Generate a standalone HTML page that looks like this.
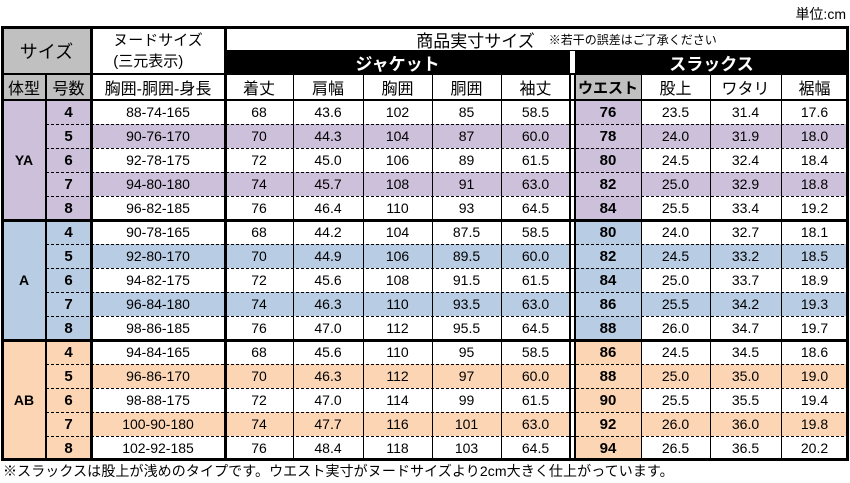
<!DOCTYPE html>
<html><head><meta charset="utf-8">
<style>
body{margin:0;width:850px;height:483px;background:#fff;position:relative;overflow:hidden;font-family:"Liberation Sans","Noto Sans CJK JP",sans-serif;color:#000}
.c{position:absolute;box-sizing:border-box;display:flex;align-items:center;justify-content:center;font-size:14px;white-space:nowrap}
.l{position:absolute;background:#000}
</style></head><body>
<div class="c" style="left:740px;top:4px;width:106px;height:20px;justify-content:flex-end;font-size:14px">単位:cm</div>
<div id="t"></div>
<div class="c" style="left:3px;top:461px;height:20px;justify-content:flex-start;font-size:14px;letter-spacing:0.1px">※スラックスは股上が浅めのタイプです。ウエスト実寸がヌードサイズより2cm大きく仕上がっています。</div>
<script>
const groups=["YA","A","AB"];
const sizes=["4","5","6","7","8"];
const nude=[["88-74-165","90-76-170","92-78-175","94-80-180","96-82-185"],["90-78-165","92-80-170","94-82-175","96-84-180","98-86-185"],["94-84-165","96-86-170","98-88-175","100-90-180","102-92-185"]];
const kitake=[["68","70","72","74","76"],["68","70","72","74","76"],["68","70","72","74","76"]];
const katahaba=[["43.6","44.3","45.0","45.7","46.4"],["44.2","44.9","45.6","46.3","47.0"],["45.6","46.3","47.0","47.7","48.4"]];
const kyoui=[["102","104","106","108","110"],["104","106","108","110","112"],["110","112","114","116","118"]];
const doui=[["85","87","89","91","93"],["87.5","89.5","91.5","93.5","95.5"],["95","97","99","101","103"]];
const sodetake=[["58.5","60.0","61.5","63.0","64.5"],["58.5","60.0","61.5","63.0","64.5"],["58.5","60.0","61.5","63.0","64.5"]];
const waist=[["76","78","80","82","84"],["80","82","84","86","88"],["86","88","90","92","94"]];
const mata=[["23.5","24.0","24.5","25.0","25.5"],["24.0","24.5","25.0","25.5","26.0"],["24.5","25.0","25.5","26.0","26.5"]];
const watari=[["31.4","31.9","32.4","32.9","33.4"],["32.7","33.2","33.7","34.2","34.7"],["34.5","35.0","35.5","36.0","36.5"]];
const susohaba=[["17.6","18.0","18.4","18.8","19.2"],["18.1","18.5","18.9","19.3","19.7"],["18.6","19.0","19.4","19.8","20.2"]];
const colors=["#ccc0da","#b8cce4","#fcd5b4"];
const X=[2,46,91,225,293,363,432,501,570,575,641,710,781,848];
const T=document.getElementById('t');
function cell(x,y,w,h,txt,bg,extra,name){const d=document.createElement('div');d.className='c';


d.style.cssText=`left:${x}px;top:${y}px;width:${w}px;height:${h}px;`+(bg?`background:${bg};`:'')+(extra||'');d.textContent=txt;T.appendChild(d);return d;}
function line(x,y,w,h,name,dash){const d=document.createElement('div');d.className='l';


d.style.cssText=`left:${x}px;top:${y}px;width:${w}px;height:${h}px;`+(dash?'background:repeating-linear-gradient(90deg,#000 0 3px,transparent 3px 5px);':'');T.appendChild(d);}
cell(2,27,89,47,"サイズ","#c0c0c0","font-size:18px;","size-header");
cell(91,27,134,47,"","", "flex-direction:column;line-height:21px;font-size:15px;","nude-header").innerHTML="ヌードサイズ<br>(三元表示)";
cell(225,27,623,24,"","","font-size:17px;","actual-size-header").innerHTML='<span style="margin-left:60px">商品実寸サイズ</span><span style="font-size:12px;margin-left:14px">※若干の誤差はご了承ください</span>';
cell(225,51,345,23,"ジャケット","#000","color:#fff;font-size:17px;font-weight:bold;","jacket-header");
cell(575,51,273,23,"スラックス","#000","color:#fff;font-size:17px;font-weight:bold;","slacks-header");
cell(570,51,5,23,"","#fff","","header-gap");
const colH=["体型","号数","胸囲-胴囲-身長","着丈","肩幅","胸囲","胴囲","袖丈","","ウエスト","股上","ワタリ","裾幅"];
colH.forEach((h,i)=>{if(i==8)return;const bg=(i<2)?"#c0c0c0":(i==9?"#c0c0c0":"");cell(X[i],74,X[i+1]-X[i],26,h,bg,"font-size:16px;"+(i==9?"font-weight:bold;font-size:15px;":""),"col-header-"+i);});
const cols=[nude,kitake,katahaba,kyoui,doui,sodetake];
groups.forEach((g,gi)=>{const y0=100+gi*120;const c=colors[gi];
cell(2,y0,44,120,g,c,"font-weight:bold;","group-"+g);
sizes.forEach((s,ri)=>{const y=y0+ri*24;const alt=(ri%2==1)?c:"";
cell(46,y,45,24,s,c,"font-weight:bold;font-size:15px;","size-"+g+"-"+s);
cols.forEach((arr,ci)=>cell(X[ci+2],y,X[ci+3]-X[ci+2],24,arr[gi][ri],alt,"","jacket-"+g+"-"+s+"-"+ci));
cell(570,y,5,24,"","#fff","","gap");
cell(575,y,66,24,waist[gi][ri],c,"font-weight:bold;font-size:15px;","waist-"+g+"-"+s);
[mata,watari,susohaba].forEach((arr,ci)=>cell(X[ci+10],y,X[ci+11]-X[ci+10],24,arr[gi][ri],alt,"","slacks-"+g+"-"+s+"-"+ci));
if(ri>0)line(46,y,802,1,"row-divider",true);
});
if(gi>0)line(2,y0-1,846,3,"group-divider");
});
line(2,26,846,3,"top-border");line(2,458,846,3,"bottom-border");
line(1,26,3,435,"left-border");line(846,26,3,435,"right-border");
line(225,50,623,1,"hdr-line");line(2,73,846,2,"hdr-line2");line(2,99,846,2,"hdr-line3");
line(45,74,2,386,"vline-1");line(90,27,3,434,"vline-2");line(224,27,3,434,"vline-3");
[293,363,432,501].forEach(x=>line(x,74,1,386,"vline"));
line(569,74,2,386,"dbl-l");line(574,74,2,386,"dbl-r");
[641,710,781].forEach(x=>line(x,74,1,386,"vline"));
</script>
</body></html>
